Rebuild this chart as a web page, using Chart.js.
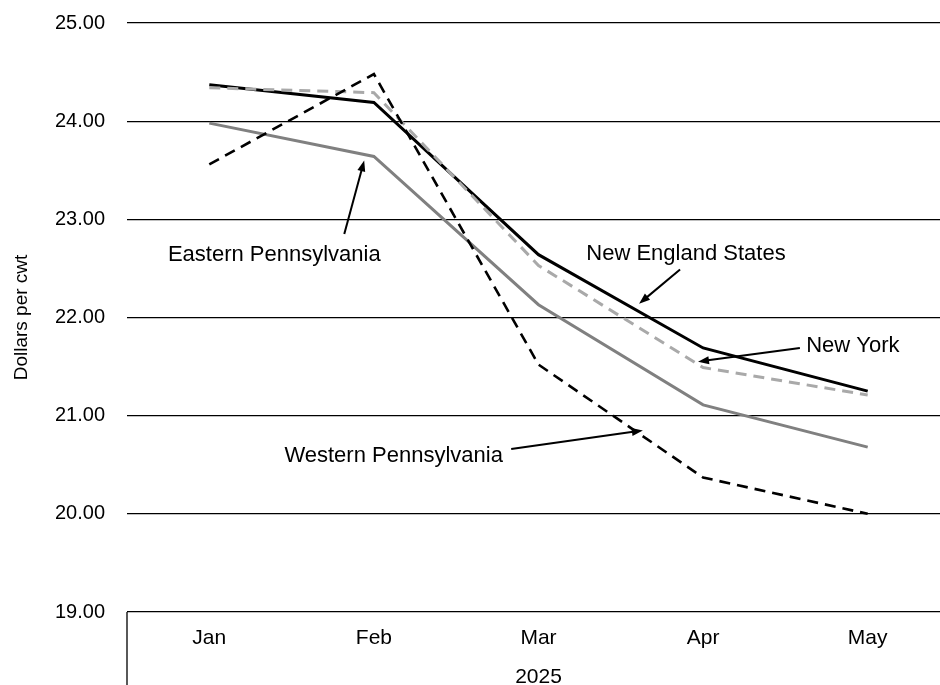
<!DOCTYPE html>
<html>
<head>
<meta charset="utf-8">
<script src="https://cdn.jsdelivr.net/npm/chart.js@4.4.1/dist/chart.umd.min.js"></script>
<style>
  html, body { margin: 0; padding: 0; background: #fff; overflow: hidden; }
  #wrap { position: relative; width: 952px; height: 685px; }
</style>
</head>
<body>
<div id="wrap"><canvas id="milkChart" width="952" height="685"></canvas></div>
<script>
// data
const months = ['Jan', 'Feb', 'Mar', 'Apr', 'May'];
const yearLabel = '2025';
const newEngland = [24.37, 24.19, 22.64, 21.69, 21.25];
const newYork = [24.34, 24.29, 22.53, 21.49, 21.21];
const easternPa = [23.98, 23.64, 22.13, 21.11, 20.68];
const westernPa = [23.56, 24.48, 21.52, 20.37, 20.00];

// call-outs: label, label spot (month index, value), arrow tail, arrow head
const noteText = ['Eastern Pennsylvania', 'New England States', 'New York', 'Western Pennsylvania'];
const noteAt = [[0.395, 22.64], [2.896, 22.65], [3.91, 21.71], [1.12, 20.59]];
const arrowFrom = [[0.82, 22.85], [2.86, 22.49], [3.588, 21.69], [1.834, 20.66]];
const arrowTo = [[0.941, 23.60], [2.611, 22.14], [2.969, 21.55], [2.634, 20.85]];

const FONT = '"Liberation Sans", Arial, sans-serif';

// labels, arrows and the category separator below the plot
const extras = {
    id: 'extras',
    afterDatasetsDraw(chart) {
        const ctx = chart.ctx;
        const x = chart.scales.x, y = chart.scales.y;
        const area = chart.chartArea;
        ctx.save();
        ctx.strokeStyle = '#000';
        ctx.lineWidth = 1.3;
        ctx.beginPath();
        ctx.moveTo(area.left, area.bottom);
        ctx.lineTo(area.left, chart.height);
        ctx.moveTo(area.right, area.bottom);
        ctx.lineTo(area.right, chart.height);
        ctx.stroke();

        ctx.fillStyle = '#000';
        ctx.font = '22px ' + FONT;
        ctx.textAlign = 'center';
        ctx.textBaseline = 'middle';
        for (let i = 0; i < noteText.length; i++) {
            ctx.fillText(noteText[i], x.getPixelForValue(noteAt[i][0]), y.getPixelForValue(noteAt[i][1]));
            const x0 = x.getPixelForValue(arrowFrom[i][0]), y0 = y.getPixelForValue(arrowFrom[i][1]);
            const x1 = x.getPixelForValue(arrowTo[i][0]), y1 = y.getPixelForValue(arrowTo[i][1]);
            const ang = Math.atan2(y1 - y0, x1 - x0);
            ctx.lineWidth = 2;
            ctx.beginPath();
            ctx.moveTo(x0, y0);
            ctx.lineTo(x1 - 8 * Math.cos(ang), y1 - 8 * Math.sin(ang));
            ctx.stroke();
            ctx.beginPath();
            ctx.moveTo(x1, y1);
            ctx.lineTo(x1 - 11 * Math.cos(ang) + 4 * Math.sin(ang), y1 - 11 * Math.sin(ang) - 4 * Math.cos(ang));
            ctx.lineTo(x1 - 11 * Math.cos(ang) - 4 * Math.sin(ang), y1 - 11 * Math.sin(ang) + 4 * Math.cos(ang));
            ctx.closePath();
            ctx.fill();
        }
        ctx.restore();
    }
};

const ctx = document.getElementById('milkChart').getContext('2d');
new Chart(ctx, {
    type: 'line',
    data: {
        labels: months,
        datasets: [
            { label: 'Western Pennsylvania', data: westernPa, borderColor: '#000', borderWidth: 2.6, borderDash: [11, 7], order: 0 },
            { label: 'New York', data: newYork, borderColor: '#a9a9a9', borderWidth: 3, borderDash: [11, 7], order: 1 },
            { label: 'New England States', data: newEngland, borderColor: '#000', borderWidth: 3, order: 2 },
            { label: 'Eastern Pennsylvania', data: easternPa, borderColor: '#808080', borderWidth: 3, order: 3 }
        ]
    },
    options: {
        responsive: false,
        animation: false,
        elements: { point: { radius: 0 }, line: { tension: 0, borderCapStyle: 'butt' } },
        layout: { padding: { left: 0, right: 2, top: 23, bottom: 0 } },
        plugins: { legend: { display: false }, tooltip: { enabled: false } },
        scales: {
            x: {
                offset: true,
                grid: { display: false },
                border: { display: false },
                ticks: { color: '#000', font: { family: FONT, size: 21 }, padding: 6 },
                title: { display: true, text: yearLabel, color: '#000', font: { family: FONT, size: 21 }, padding: { top: 0, bottom: -5 } },
                afterFit(s) { s.height = 73; }
            },
            y: {
                min: 19,
                max: 25,
                grid: { color: '#000', lineWidth: 1.3, drawTicks: false },
                border: { display: false },
                ticks: {
                    stepSize: 1,
                    color: '#000',
                    padding: 22,
                    font: { family: FONT, size: 20 },
                    callback: v => v.toFixed(2)
                },
                title: { display: true, text: 'Dollars per cwt', color: '#000', font: { family: FONT, size: 19 }, padding: { top: 10, bottom: 0 } },
                afterFit(s) { s.width = 127; s.paddingTop = 0; s.paddingBottom = 0; }
            }
        }
    },
    plugins: [extras]
});
</script>
</body>
</html>
